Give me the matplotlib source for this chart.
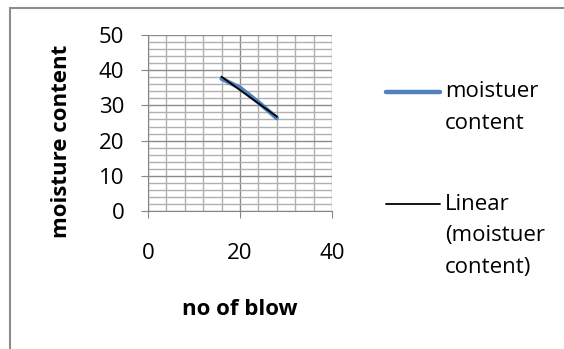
import matplotlib
matplotlib.use("Agg")
import matplotlib.pyplot as plt
import numpy as np
from matplotlib.lines import Line2D
from matplotlib.patches import Rectangle

plt.rcParams["font.family"] = ["Open Sans", "DejaVu Sans"]

blows = [16, 20, 24, 28]
moisture = [37.6, 35.0, 30.9, 26.4]
x_ticks = [0, 20, 40]
y_ticks = [0, 10, 20, 30, 40, 50]

fs = 16

fig = plt.figure(figsize=(5.64, 3.49), dpi=100)
ax = fig.add_axes([148 / 564, 1 - 211 / 349, 184 / 564, 176 / 349])

# outer chart frame
fig.patches.append(Rectangle((10 / 564, -0.1), 1.1, 1 - 8 / 349 + 0.1,
                             transform=fig.transFigure, fill=False,
                             edgecolor="#8c8c8c", linewidth=1.5))

ax.plot(blows, moisture, color="#4F81BD", linewidth=3.2, solid_capstyle="round", zorder=3)
k, b = np.polyfit(blows, moisture, 1)
fit_x = np.array([blows[0], blows[-1]])
ax.plot(fit_x, k * fit_x + b, color="black", linewidth=1.3, zorder=4)

ax.set_xlim(0, 40)
ax.set_ylim(0, 50)
ax.set_xticks(x_ticks)
ax.set_yticks(y_ticks)
ax.set_xticks(np.arange(0, 41, 4), minor=True)
ax.set_yticks(np.arange(0, 51, 2), minor=True)
ax.grid(which="major", color="#8a8a8a", linewidth=1.0)
ax.grid(which="minor", color="#b0b0b0", linewidth=1.0)
ax.set_axisbelow(True)
for s in ["top", "right"]:
    ax.spines[s].set_visible(False)
for s in ["left", "bottom"]:
    ax.spines[s].set_color("#868686")
ax.tick_params(which="major", direction="out", length=5, color="#868686", labelsize=fs)
ax.tick_params(which="minor", length=0)
ax.tick_params(axis="x", pad=18)
ax.tick_params(axis="y", pad=12)

ax.set_xlabel("no of blow", fontsize=fs, fontweight="bold", labelpad=25)
ax.set_ylabel("moisture content", fontsize=fs, fontweight="bold")
ax.yaxis.set_label_coords((72 - 148) / 184, (211 - 141) / 176)

# legend drawn at figure level
leg_items = [("#4F81BD", 3.2, 92, ["moistuer", "content"]),
             ("black", 1.3, 204, ["Linear", "(moistuer", "content)"])]
for color, lw, ypx, lines in leg_items:
    y = 1 - ypx / 349
    fig.add_artist(Line2D([386 / 564, 440 / 564], [y, y], color=color, linewidth=lw,
                          solid_capstyle="round", transform=fig.transFigure))
    for i, t in enumerate(lines):
        fig.text(445 / 564, 1 - (ypx + 32 * i) / 349, t, fontsize=fs, va="center", ha="left")

fig.savefig("out.png", dpi=100)
